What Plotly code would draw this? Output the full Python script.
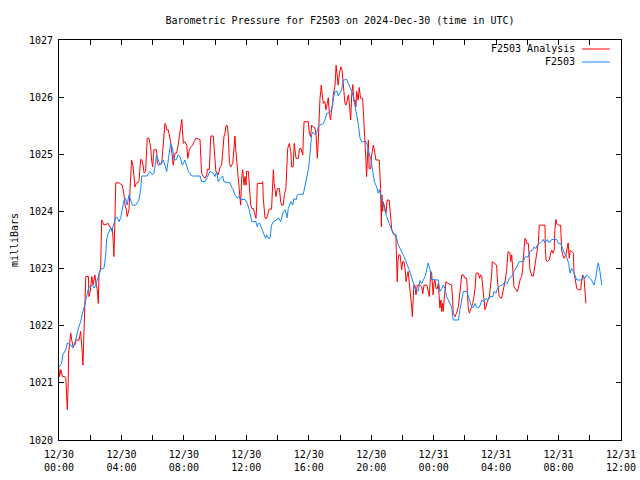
import datetime as dt
import plotly.graph_objects as go

# ---------------- data (minutes after 2024-12-30 00:00 UTC, pressure in mbar) ----------------
station_min = [0, 10, 15, 26, 32, 45, 54, 64, 73, 83, 92, 99, 109, 115, 128, 135, 141, 147, 154, 160,
               173, 179, 183, 189, 199, 203, 209, 218, 224, 231, 237, 243, 250, 256, 262, 269, 276, 282,
               295, 307, 314, 318, 339, 349, 359, 365, 375, 388, 401, 414, 420, 429, 437, 442, 450, 458,
               465, 474, 484, 493, 497, 510, 542, 548, 561, 568, 580, 593, 600, 606, 612, 621, 629, 634,
               657, 664, 670, 676, 685, 693, 698, 715, 724, 731, 738, 741, 757, 762, 766, 772, 779, 788,
               794, 798, 804, 811, 817, 824, 837, 843, 852, 862, 869, 877, 881, 891, 898, 903, 911, 916,
               920, 939, 945, 952, 958, 962, 967, 971, 975, 984, 990, 997, 1003, 1016, 1022, 1029, 1035,
               1041, 1048, 1054, 1061, 1070, 1073, 1080, 1086, 1093, 1106, 1112, 1118, 1125, 1131, 1138,
               1144, 1150, 1157, 1163, 1180, 1185, 1191, 1198, 1206, 1212, 1221, 1227, 1231, 1238, 1244,
               1250, 1259, 1269, 1279, 1285, 1295, 1302, 1311, 1317, 1326, 1334, 1340, 1346, 1356, 1362,
               1368, 1372, 1381, 1387, 1394, 1400, 1407, 1413, 1419, 1426, 1432, 1458, 1464, 1471, 1477,
               1484, 1490, 1496, 1503, 1509, 1515, 1535, 1541, 1548, 1554, 1567, 1573, 1586, 1592, 1599,
               1605, 1612, 1618, 1625, 1633, 1641, 1650, 1656, 1667, 1672, 1680, 1685, 1695, 1705, 1714,
               1723, 1731, 1740, 1749, 1756, 1769, 1784, 1791, 1804, 1810, 1821, 1826, 1833, 1838, 1849,
               1855, 1861, 1868, 1877, 1884, 1894, 1913, 1919, 1928, 1936, 1942, 1948, 1953, 1959, 1964,
               1970, 1977, 1983, 1990, 2009, 2015, 2022, 2028, 2034, 2047, 2056, 2064, 2069, 2073, 2079,
               2086]
station_mb = [1021.28, 1021.34, 1021.49, 1021.58, 1021.70, 1021.66, 1021.61, 1021.75, 1021.93, 1022.07,
              1022.25, 1022.36, 1022.57, 1022.68, 1022.71, 1022.66, 1022.71, 1022.80, 1022.89, 1022.99,
              1023.01, 1023.21, 1023.50, 1023.62, 1023.71, 1023.65, 1023.76, 1023.90, 1023.89, 1023.82,
              1023.89, 1024.03, 1024.20, 1024.23, 1024.11, 1024.29, 1024.20, 1024.11, 1024.11, 1024.20,
              1024.38, 1024.62, 1024.62, 1024.70, 1024.64, 1024.67, 1024.99, 1024.81, 1024.90, 1024.70,
              1024.90, 1025.19, 1025.10, 1024.91, 1024.90, 1024.99, 1024.96, 1024.81, 1024.90, 1024.78,
              1024.70, 1024.62, 1024.62, 1024.52, 1024.52, 1024.58, 1024.70, 1024.67, 1024.61, 1024.70,
              1024.52, 1024.58, 1024.62, 1024.52, 1024.50, 1024.42, 1024.38, 1024.29, 1024.23, 1024.27,
              1024.21, 1024.21, 1024.14, 1024.03, 1023.88, 1023.82, 1023.82, 1023.73, 1023.79, 1023.79,
              1023.70, 1023.59, 1023.53, 1023.59, 1023.53, 1023.53, 1023.76, 1023.82, 1023.85, 1023.89,
              1023.82, 1024.00, 1024.03, 1023.89, 1024.05, 1024.17, 1024.11, 1024.23, 1024.20, 1024.29,
              1024.30, 1024.30, 1024.43, 1024.58, 1024.73, 1024.87, 1025.10, 1025.34, 1025.39, 1025.34,
              1025.37, 1025.48, 1025.51, 1025.54, 1025.60, 1025.72, 1025.72, 1025.75, 1025.78, 1025.98,
              1026.10, 1026.10, 1026.02, 1026.07, 1026.13, 1026.30, 1026.31, 1026.24, 1026.18, 1026.10,
              1026.01, 1025.86, 1025.72, 1025.54, 1025.28, 1025.22, 1025.22, 1025.16, 1025.02, 1024.93,
              1024.70, 1024.52, 1024.43, 1024.32, 1024.38, 1024.26, 1024.14, 1024.03, 1023.91, 1023.79,
              1023.65, 1023.60, 1023.60, 1023.44, 1023.35, 1023.30, 1023.21, 1023.12, 1023.06, 1022.98,
              1022.83, 1022.74, 1022.65, 1022.61, 1022.61, 1022.79, 1022.74, 1022.80, 1022.86, 1022.98,
              1023.10, 1022.98, 1022.81, 1022.80, 1022.60, 1022.65, 1022.71, 1022.65, 1022.51, 1022.45,
              1022.39, 1022.33, 1022.10, 1022.10, 1022.28, 1022.48, 1022.60, 1022.60, 1022.51, 1022.33,
              1022.32, 1022.39, 1022.33, 1022.31, 1022.35, 1022.45, 1022.42, 1022.48, 1022.45, 1022.51,
              1022.51, 1022.60, 1022.57, 1022.65, 1022.70, 1022.71, 1022.77, 1022.74, 1022.83, 1022.86,
              1022.95, 1023.00, 1023.12, 1023.12, 1023.20, 1023.21, 1023.30, 1023.33, 1023.38, 1023.35,
              1023.41, 1023.44, 1023.47, 1023.51, 1023.45, 1023.51, 1023.45, 1023.51, 1023.51, 1023.44,
              1023.44, 1023.35, 1023.27, 1023.24, 1023.18, 1023.09, 1022.92, 1023.00, 1022.95, 1022.89,
              1022.80, 1022.80, 1022.87, 1022.83, 1022.89, 1022.86, 1022.80, 1022.71, 1022.86, 1023.03,
              1023.10, 1022.95, 1022.71]

analysis_min = [0, 2, 7, 13, 23, 26, 28, 31, 32, 35, 37, 41, 45, 49, 54, 61, 66, 77, 83, 90, 92, 96,
                100, 103, 113, 115, 120, 126, 131, 138, 143, 147, 151, 154, 160, 161, 164, 173, 189, 199,
                205, 209, 211, 215, 218, 231, 243, 250, 254, 259, 262, 269, 276, 279, 284, 288, 292, 297,
                307, 314, 319, 323, 327, 333, 336, 339, 346, 352, 356, 360, 365, 375, 378, 382, 395, 399,
                404, 407, 411, 414, 420, 424, 429, 434, 439, 446, 452, 458, 462, 468, 472, 474, 478, 484,
                491, 495, 501, 506, 514, 519, 527, 542, 545, 548, 555, 561, 568, 570, 578, 580, 583, 593,
                596, 600, 603, 612, 619, 625, 629, 631, 634, 638, 642, 647, 651, 655, 660, 668, 673, 676,
                680, 685, 689, 693, 696, 698, 702, 706, 711, 715, 719, 721, 728, 731, 734, 737, 741, 747,
                753, 757, 760, 762, 780, 783, 785, 789, 792, 798, 808, 817, 821, 824, 827, 830, 834, 839,
                847, 852, 856, 862, 866, 872, 875, 879, 885, 891, 894, 900, 904, 911, 920, 924, 930, 937,
                939, 942, 958, 962, 967, 971, 977, 984, 988, 990, 993, 997, 1000, 1003, 1006, 1008, 1011,
                1016, 1022, 1026, 1031, 1035, 1039, 1044, 1048, 1052, 1054, 1061, 1065, 1070, 1073, 1077,
                1083, 1088, 1093, 1095, 1099, 1103, 1108, 1112, 1116, 1118, 1121, 1125, 1129, 1131, 1134,
                1138, 1141, 1144, 1146, 1150, 1154, 1157, 1159, 1167, 1169, 1176, 1180, 1182, 1185, 1189,
                1192, 1198, 1202, 1208, 1212, 1215, 1218, 1231, 1236, 1239, 1241, 1244, 1246, 1253, 1257,
                1259, 1262, 1269, 1272, 1275, 1279, 1285, 1291, 1295, 1298, 1300, 1303, 1306, 1311, 1313,
                1317, 1321, 1326, 1330, 1334, 1336, 1340, 1342, 1345, 1349, 1353, 1356, 1358, 1361, 1364,
                1368, 1372, 1377, 1387, 1394, 1398, 1403, 1414, 1419, 1423, 1429, 1432, 1436, 1438, 1441,
                1445, 1449, 1454, 1458, 1462, 1464, 1468, 1471, 1475, 1477, 1480, 1484, 1487, 1496, 1509,
                1513, 1515, 1522, 1528, 1535, 1538, 1541, 1545, 1548, 1554, 1561, 1567, 1569, 1573, 1577,
                1582, 1590, 1595, 1599, 1603, 1612, 1616, 1621, 1625, 1629, 1633, 1637, 1641, 1646, 1654,
                1659, 1663, 1665, 1676, 1682, 1685, 1689, 1692, 1701, 1707, 1714, 1720, 1724, 1726, 1733,
                1736, 1740, 1744, 1746, 1749, 1756, 1761, 1765, 1772, 1778, 1782, 1784, 1788, 1791, 1795,
                1797, 1804, 1807, 1810, 1814, 1817, 1823, 1829, 1833, 1838, 1842, 1846, 1868, 1869, 1872,
                1877, 1884, 1890, 1894, 1898, 1903, 1906, 1910, 1913, 1919, 1928, 1932, 1936, 1941, 1948,
                1951, 1953, 1957, 1961, 1965, 1970, 1977, 1979, 1983, 1990, 1996, 2005, 2009, 2013, 2018,
                2022, 2025]
analysis_mb = [1021.25, 1021.11, 1021.23, 1021.11, 1021.11, 1021.08, 1020.93, 1020.70, 1020.53, 1020.93,
               1021.52, 1021.69, 1021.87, 1021.75, 1021.63, 1021.66, 1021.75, 1021.75, 1021.90, 1021.49,
               1021.31, 1021.90, 1022.60, 1022.86, 1022.86, 1022.51, 1022.60, 1022.86, 1022.71, 1022.89,
               1022.71, 1022.63, 1022.39, 1022.92, 1022.98, 1023.50, 1023.85, 1023.76, 1023.79, 1023.70,
               1023.70, 1023.44, 1023.21, 1023.85, 1024.50, 1024.50, 1024.46, 1024.29, 1024.11, 1024.03,
               1023.91, 1024.03, 1024.58, 1024.90, 1024.81, 1024.52, 1024.43, 1024.49, 1024.52, 1024.91,
               1024.90, 1024.81, 1024.67, 1024.70, 1025.13, 1025.28, 1025.28, 1025.13, 1024.90, 1024.78,
               1025.08, 1025.08, 1024.84, 1024.81, 1024.84, 1025.08, 1025.40, 1025.54, 1025.51, 1025.43,
               1025.43, 1025.34, 1025.22, 1025.02, 1024.81, 1025.02, 1025.02, 1025.16, 1025.31, 1025.51,
               1025.61, 1025.45, 1025.19, 1025.22, 1025.16, 1024.93, 1025.08, 1025.13, 1025.16, 1025.22,
               1025.28, 1025.26, 1024.96, 1024.67, 1024.61, 1024.58, 1024.64, 1024.74, 1024.73, 1024.99,
               1025.32, 1025.32, 1025.08, 1024.87, 1024.70, 1024.64, 1024.78, 1024.81, 1024.96, 1025.13,
               1025.31, 1025.37, 1025.50, 1025.50, 1025.31, 1024.84, 1024.78, 1024.84, 1025.13, 1025.32,
               1025.05, 1024.75, 1024.49, 1024.29, 1024.23, 1024.11, 1024.58, 1024.73, 1024.46, 1024.61,
               1024.46, 1024.70, 1024.70, 1024.55, 1024.29, 1024.11, 1024.05, 1024.05, 1023.97, 1023.88,
               1024.11, 1024.49, 1024.49, 1024.52, 1024.23, 1024.05, 1023.88, 1023.88, 1024.04, 1024.04,
               1024.38, 1024.73, 1024.49, 1024.35, 1024.26, 1024.40, 1024.40, 1024.17, 1024.11, 1024.11,
               1024.29, 1024.40, 1024.70, 1025.10, 1025.19, 1025.05, 1024.78, 1024.78, 1025.19, 1024.93,
               1024.93, 1025.10, 1025.10, 1024.99, 1025.28, 1025.57, 1025.57, 1025.37, 1025.31, 1025.51,
               1025.48, 1025.46, 1025.34, 1025.16, 1024.93, 1025.28, 1025.78, 1025.98, 1026.10, 1026.21,
               1026.07, 1025.89, 1025.92, 1025.78, 1025.89, 1025.99, 1025.72, 1025.60, 1025.80, 1025.86,
               1026.04, 1026.21, 1026.56, 1026.27, 1026.21, 1026.39, 1026.53, 1026.47, 1026.27, 1026.10,
               1025.89, 1025.86, 1025.95, 1026.04, 1025.89, 1025.80, 1025.60, 1026.04, 1026.22, 1026.10,
               1025.92, 1025.95, 1025.83, 1026.10, 1026.01, 1025.95, 1026.17, 1026.05, 1025.98, 1025.98,
               1025.84, 1025.25, 1024.87, 1024.61, 1025.04, 1025.25, 1024.75, 1024.75, 1024.99, 1025.16,
               1025.08, 1024.99, 1024.90, 1024.90, 1024.40, 1023.73, 1024.29, 1024.00, 1024.17, 1024.05,
               1023.97, 1024.11, 1024.20, 1024.20, 1024.00, 1023.79, 1023.68, 1023.62, 1023.59, 1023.54,
               1023.24, 1022.77, 1023.15, 1023.24, 1023.24, 1023.09, 1022.98, 1023.12, 1023.12, 1023.00,
               1022.77, 1022.83, 1022.95, 1022.95, 1022.80, 1022.65, 1022.42, 1022.31, 1022.16, 1022.45,
               1022.71, 1022.71, 1022.54, 1022.71, 1022.71, 1022.68, 1022.56, 1022.71, 1022.71, 1022.60,
               1022.51, 1022.95, 1022.92, 1022.68, 1022.54, 1022.74, 1022.80, 1022.65, 1022.65, 1022.74,
               1022.45, 1022.31, 1022.45, 1022.25, 1022.39, 1022.25, 1022.45, 1022.68, 1022.77, 1022.74,
               1022.71, 1022.45, 1022.22, 1022.16, 1022.22, 1022.33, 1022.45, 1022.60, 1022.74, 1022.89,
               1022.89, 1022.83, 1022.83, 1022.54, 1022.31, 1022.22, 1022.28, 1022.39, 1022.51, 1022.65,
               1022.92, 1022.92, 1022.83, 1022.89, 1022.86, 1022.63, 1022.39, 1022.28, 1022.33, 1022.42,
               1022.51, 1022.68, 1022.89, 1023.12, 1023.09, 1023.06, 1022.80, 1022.60, 1022.51, 1022.48,
               1022.60, 1022.77, 1022.95, 1023.15, 1023.30, 1023.27, 1023.12, 1023.24, 1023.03, 1022.86,
               1022.68, 1022.63, 1022.60, 1022.65, 1022.80, 1022.86, 1022.98, 1023.15, 1023.38, 1023.53,
               1023.50, 1023.44, 1023.44, 1023.21, 1022.98, 1022.92, 1022.87, 1022.87, 1023.03, 1023.21,
               1023.27, 1023.44, 1023.76, 1023.76, 1023.35, 1023.15, 1023.12, 1023.15, 1023.27, 1023.32,
               1023.27, 1023.32, 1023.68, 1023.86, 1023.79, 1023.76, 1023.76, 1023.32, 1023.24, 1023.18,
               1023.24, 1023.32, 1023.38, 1023.45, 1023.18, 1023.32, 1023.30, 1023.27, 1022.95, 1022.86,
               1022.65, 1022.63, 1022.63, 1022.80, 1022.89, 1022.83, 1022.51, 1022.39]

tick_hours = [0, 2, 4, 6, 8, 10, 12, 14, 16, 18, 20, 22, 24, 26, 28, 30, 32, 34, 36]
tick_labels = ["12/30<br>00:00", "", "12/30<br>04:00", "", "12/30<br>08:00", "", "12/30<br>12:00", "",
               "12/30<br>16:00", "", "12/30<br>20:00", "", "12/31<br>00:00", "", "12/31<br>04:00", "",
               "12/31<br>08:00", "", "12/31<br>12:00"]
y_ticks = [1020, 1021, 1022, 1023, 1024, 1025, 1026, 1027]

series_names = ["F2503 Analysis", "F2503"]
series_colors = ["#ff0000", "#1188ff"]

# ---------------- figure ----------------
base = dt.datetime(2024, 12, 30, 0, 0)
to_t = lambda mins: [base + dt.timedelta(minutes=m) for m in mins]

FONT = "DejaVu Sans Mono"

fig = go.Figure()
fig.add_trace(go.Scatter(x=to_t(analysis_min), y=analysis_mb, mode="lines", name=series_names[0],
                         line=dict(color=series_colors[0], width=1), showlegend=False))
fig.add_trace(go.Scatter(x=to_t(station_min), y=station_mb, mode="lines", name=series_names[1],
                         line=dict(color=series_colors[1], width=1), showlegend=False))

# gnuplot-style legend: text right-aligned, line sample to its right
for i, (nm, col) in enumerate(zip(series_names, series_colors)):
    ypos = 0.9775 - i * 0.0325
    fig.add_annotation(x=0.9225, y=ypos, xref="paper", yref="paper", text=nm, showarrow=False,
                       xanchor="right", yanchor="middle", font=dict(family=FONT, size=10, color="black"))
    fig.add_shape(type="line", xref="paper", yref="paper", x0=0.9305, x1=0.980, y0=ypos, y1=ypos,
                  line=dict(color=col, width=1))

fig.update_layout(
    width=640, height=480,
    margin=dict(l=59, r=19, t=40, b=40, autoexpand=False),
    paper_bgcolor="white", plot_bgcolor="white",
    font=dict(family=FONT, size=10, color="black"),
    title=dict(text="Barometric Pressure for F2503 on 2024-Dec-30 (time in UTC)", x=340 / 640, xanchor="center",
               xref="container", yref="container", y=1 - 20 / 480, yanchor="middle",
               font=dict(family=FONT, size=10, color="black")),
)
fig.update_xaxes(
    range=[base, base + dt.timedelta(hours=36)], automargin=False,
    tickvals=[base + dt.timedelta(hours=h) for h in tick_hours], ticktext=tick_labels,
    ticks="inside", ticklen=5, tickcolor="black", tickwidth=1, ticklabelstandoff=5,
    showline=True, linecolor="black", linewidth=1, mirror="ticks",
    showgrid=False, zeroline=False, tickfont=dict(family=FONT, size=10, color="black"),
)
fig.update_yaxes(
    range=[1020, 1027], tickvals=y_ticks, ticktext=[str(v) for v in y_ticks], automargin=False,
    ticks="inside", ticklen=5, tickcolor="black", tickwidth=1, ticklabelstandoff=3,
    showline=True, linecolor="black", linewidth=1, mirror="ticks",
    showgrid=False, zeroline=False, tickfont=dict(family=FONT, size=10, color="black"),
    title=dict(text="milliBars", font=dict(family=FONT, size=10, color="black"), standoff=8),
)

# remove the browser's default 8px page margin so the 640x480 figure fills the window exactly
fig.write_html("out.html", config={"displayModeBar": False},
               post_script="document.body.style.margin='0';document.body.style.overflow='hidden';")
